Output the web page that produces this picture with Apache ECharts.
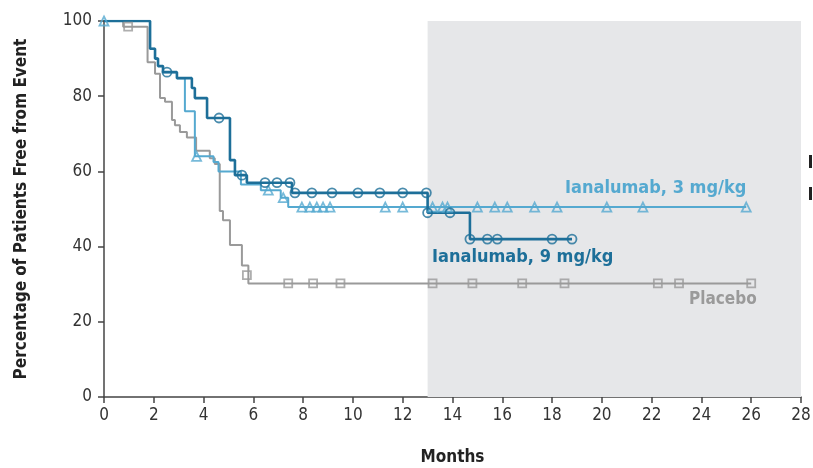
<!DOCTYPE html>
<html lang="en">
<head>
    <meta charset="UTF-8">
    <title>Ianalumab KM</title>
    <script type="text/javascript" src="https://cdn.jsdelivr.net/npm/echarts@6/dist/echarts.min.js"></script>
    <style>
        body { margin: 0; background: #fff; }
        #chart { width: 813px; height: 468px; }
    </style>
</head>
<body>
<div id="chart"></div>
<script>
    // x ticks / y ticks
    var xTicks = [0, 2, 4, 6, 8, 10, 12, 14, 16, 18, 20, 22, 24, 26, 28];
    var yTicks = [0, 20, 40, 60, 80, 100];
    var shadeFrom = 13, shadeTo = 28;

    // Ianalumab 9 mg/kg : time of each step, value after the step
    var months9 = [0, 1.85, 2.05, 2.17, 2.37, 2.93, 3.53, 3.65, 4.14, 5.06, 5.26, 5.74, 7.55, 13.0, 14.7, 18.8];
    var surv9 = [100, 92.6, 90, 88, 86.4, 84.8, 82.2, 79.5, 74.2, 63, 59, 57, 54.3, 49, 42, 42];
    var cens9Months = [2.53, 4.62, 5.54, 6.47, 6.95, 7.47, 7.67, 8.35, 9.16, 10.2, 11.08, 12.0, 12.95, 13.0, 13.9, 14.7, 15.4, 15.8, 18.0, 18.8];
    var cens9Values = [86.4, 74.2, 59, 57, 57, 57, 54.3, 54.3, 54.3, 54.3, 54.3, 54.3, 54.3, 49, 49, 42, 42, 42, 42, 42];

    // Ianalumab 3 mg/kg
    var months3 = [0, 1.85, 2.05, 2.17, 2.37, 2.93, 3.25, 3.65, 4.4, 4.6, 5.5, 6.3, 7.1, 7.4, 25.8];
    var surv3 = [100, 92.6, 90, 88, 86.4, 84.8, 76, 64, 62.5, 60, 56.5, 55, 53, 50.5, 50.5];
    var cens3Months = [0, 3.72, 6.6, 7.2, 7.95, 8.27, 8.55, 8.8, 9.08, 11.3, 12.0, 13.2, 13.6, 13.8, 15.0, 15.7, 16.2, 17.3, 18.2, 20.2, 21.65, 25.8];
    var cens3Values = [100, 64, 55, 53, 50.5, 50.5, 50.5, 50.5, 50.5, 50.5, 50.5, 50.5, 50.5, 50.5, 50.5, 50.5, 50.5, 50.5, 50.5, 50.5, 50.5, 50.5];

    // Placebo
    var monthsP = [0, 0.77, 1.75, 2.05, 2.25, 2.45, 2.73, 2.85, 3.05, 3.33, 3.7, 4.25, 4.45, 4.65, 4.78, 5.06, 5.54, 5.8, 26.0];
    var survP = [100, 98.5, 89, 86, 79.5, 78.5, 73.7, 72.3, 70.5, 69, 65.5, 63.5, 62, 49.5, 47, 40.4, 35, 30.2, 30.2];
    var censPMonths = [0.97, 5.74, 7.4, 8.4, 9.5, 13.2, 14.8, 16.8, 18.5, 22.25, 23.1, 26.0];
    var censPValues = [98.5, 32.4, 30.2, 30.2, 30.2, 30.2, 30.2, 30.2, 30.2, 30.2, 30.2, 30.2];

    var dark = '#1d6f99';
    var light = '#55a9d0';
    var grey = '#9a9a9a';

    function pairs(xs, ys) {
        var out = [];
        for (var i = 0; i < xs.length; i++) out.push([xs[i], ys[i]]);
        return out;
    }

    function stepLine(name, xs, ys, color, width, z) {
        return {
            name: name, type: 'line', step: 'end', data: pairs(xs, ys),
            showSymbol: false, silent: true, z: z,
            lineStyle: { color: color, width: width }
        };
    }

    function censor(name, xs, ys, color, symbol, size, z) {
        return {
            name: name, type: 'scatter', data: pairs(xs, ys), symbol: symbol,
            symbolSize: size, silent: true, z: z,
            itemStyle: { color: 'rgba(255,255,255,0)', borderColor: color, borderWidth: 1.8 }
        };
    }

    function label(text, x, y, color, size) {
        return {
            type: 'text', left: x, top: y, z: 100,
            style: { text: text, fill: color, fontFamily: font, fontSize: size, fontWeight: 'bold' }
        };
    }

    var chart = echarts.init(document.getElementById('chart'));
    var font = '"DejaVu Sans Condensed", "Liberation Sans Narrow", sans-serif';

    var option = {
        animation: false,
        grid: { left: 104, right: 12, top: 21, bottom: 71, outerBoundsMode: 'none', containLabel: false },
        xAxis: {
            type: 'value', min: 0, max: 28, interval: 2,
            name: 'Months', nameLocation: 'middle', nameGap: 52,
            nameTextStyle: { fontFamily: font, fontSize: 17, fontWeight: 'bold', color: '#222' },
            axisLine: { lineStyle: { color: '#444', width: 1.5 } },
            axisTick: { length: 6, lineStyle: { color: '#444', width: 1.5 } },
            axisLabel: { fontFamily: font, fontSize: 17, color: '#333', margin: 10 },
            splitLine: { show: false }
        },
        yAxis: {
            type: 'value', min: 0, max: 100, interval: 20,
            name: 'Percentage of Patients Free from Event', nameLocation: 'middle', nameGap: 74,
            nameTextStyle: { fontFamily: font, fontSize: 17, fontWeight: 'bold', color: '#222' },
            axisLine: { show: true, lineStyle: { color: '#444', width: 1.5 } },
            axisTick: { show: true, length: 6, lineStyle: { color: '#444', width: 1.5 } },
            axisLabel: { fontFamily: font, fontSize: 17, color: '#333', margin: 12 },
            splitLine: { show: false }
        },
        series: [
            {
                type: 'line', data: [], silent: true,
                markArea: {
                    silent: true,
                    itemStyle: { color: '#e6e7e9' },
                    data: [[{ xAxis: shadeFrom, yAxis: yTicks[0] }, { xAxis: shadeTo, yAxis: yTicks[yTicks.length - 1] }]]
                }
            },
            stepLine('Placebo', monthsP, survP, grey, 2, 2),
            stepLine('Ianalumab, 3 mg/kg', months3, surv3, light, 2, 3),
            stepLine('Ianalumab, 9 mg/kg', months9, surv9, dark, 2.6, 4),
            censor('Placebo c', censPMonths, censPValues, grey, 'rect', 8, 5),
            censor('3 c', cens3Months, cens3Values, light, 'triangle', 9, 6),
            censor('9 c', cens9Months, cens9Values, dark, 'circle', 9, 7)
        ],
        graphic: [
            label('Ianalumab, 3 mg/kg', 565, 179, light, 18),
            label('Ianalumab, 9 mg/kg', 432, 248, dark, 18),
            label('Placebo', 689, 291, grey, 17),
            { type: 'rect', left: 809, top: 155, shape: { width: 3, height: 13 }, style: { fill: '#222' } },
            { type: 'rect', left: 809, top: 187, shape: { width: 3, height: 13 }, style: { fill: '#222' } }
        ]
    };
    chart.setOption(option);
</script>
</body>
</html>
